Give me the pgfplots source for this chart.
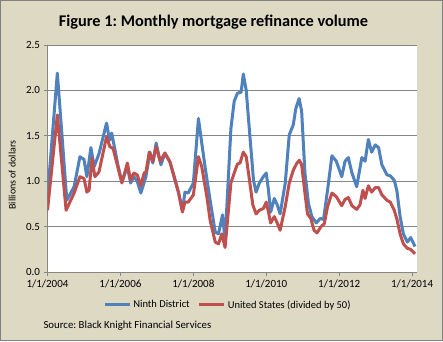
\documentclass[border=0pt]{standalone}
\usepackage{pgfplots}
\pgfplotsset{compat=1.18}
\usepackage{fontspec}
\setmainfont{Carlito}
\frenchspacing
\definecolor{bg}{HTML}{DDD9C3}
\definecolor{ninth}{HTML}{4F81BD}
\definecolor{usred}{HTML}{C0504D}
\definecolor{gridc}{HTML}{868686}
\pgfplotstableread{
x y
2004.00 0.83
2004.27 2.19
2004.53 0.79
2004.73 0.94
2004.89 1.27
2005.00 1.24
2005.08 1.05
2005.19 1.37
2005.28 1.16
2005.41 1.30
2005.62 1.64
2005.70 1.45
2005.76 1.53
2005.94 1.16
2006.04 0.99
2006.19 1.16
2006.28 0.98
2006.37 1.05
2006.46 1.00
2006.56 0.87
2006.70 1.05
2006.81 1.32
2006.89 1.20
2006.98 1.42
2007.11 1.18
2007.22 1.31
2007.36 1.21
2007.50 1.01
2007.59 0.88
2007.70 0.68
2007.77 0.88
2007.86 0.87
2008.00 0.98
2008.14 1.69
2008.20 1.51
2008.32 1.16
2008.46 0.79
2008.60 0.44
2008.69 0.42
2008.80 0.63
2008.87 0.35
2009.03 1.58
2009.12 1.88
2009.21 1.97
2009.31 1.98
2009.37 2.18
2009.45 2.00
2009.56 1.45
2009.65 1.01
2009.72 0.88
2009.81 0.98
2009.92 1.05
2010.00 1.09
2010.06 0.90
2010.12 0.66
2010.22 0.81
2010.30 0.74
2010.38 0.64
2010.52 0.98
2010.63 1.51
2010.74 1.62
2010.81 1.80
2010.90 1.91
2010.97 1.77
2011.06 1.09
2011.16 0.75
2011.25 0.61
2011.37 0.54
2011.48 0.59
2011.57 0.58
2011.68 0.90
2011.80 1.28
2011.92 1.22
2012.07 1.05
2012.16 1.22
2012.25 1.26
2012.35 1.09
2012.48 0.94
2012.62 1.26
2012.71 1.22
2012.80 1.46
2012.89 1.32
2012.99 1.40
2013.08 1.37
2013.17 1.18
2013.31 1.07
2013.40 1.06
2013.51 1.01
2013.58 0.90
2013.67 0.61
2013.76 0.42
2013.87 0.33
2013.96 0.38
2014.08 0.28
}\ninthdata
\pgfplotstableread{
x y
2004.00 0.68
2004.27 1.73
2004.51 0.68
2004.73 0.87
2004.89 1.05
2005.00 1.03
2005.08 0.88
2005.14 0.90
2005.22 1.25
2005.30 1.05
2005.41 1.10
2005.62 1.49
2005.71 1.38
2005.80 1.36
2006.04 0.98
2006.19 1.20
2006.28 1.01
2006.37 1.09
2006.46 1.07
2006.56 0.95
2006.65 1.09
2006.70 1.10
2006.79 1.32
2006.89 1.22
2006.98 1.38
2007.09 1.22
2007.22 1.31
2007.36 1.21
2007.50 1.01
2007.59 0.88
2007.70 0.66
2007.77 0.77
2007.86 0.77
2008.00 0.85
2008.14 1.27
2008.23 1.16
2008.37 0.83
2008.46 0.57
2008.60 0.33
2008.69 0.31
2008.78 0.42
2008.87 0.27
2009.03 0.98
2009.12 1.09
2009.21 1.19
2009.28 1.20
2009.37 1.32
2009.45 1.27
2009.54 1.01
2009.63 0.74
2009.72 0.64
2009.81 0.68
2009.92 0.70
2010.00 0.77
2010.06 0.66
2010.12 0.54
2010.22 0.61
2010.30 0.54
2010.38 0.46
2010.52 0.72
2010.63 0.98
2010.74 1.12
2010.84 1.20
2010.91 1.23
2010.97 1.18
2011.06 0.87
2011.13 0.64
2011.22 0.59
2011.31 0.46
2011.39 0.43
2011.50 0.50
2011.59 0.53
2011.68 0.72
2011.80 0.87
2011.92 0.83
2012.07 0.73
2012.16 0.80
2012.25 0.82
2012.35 0.73
2012.48 0.69
2012.57 0.74
2012.65 0.90
2012.71 0.81
2012.80 0.95
2012.89 0.88
2012.99 0.93
2013.08 0.93
2013.17 0.85
2013.31 0.79
2013.40 0.77
2013.51 0.68
2013.59 0.57
2013.67 0.42
2013.76 0.31
2013.87 0.26
2013.96 0.25
2014.08 0.20
}\usdata
\begin{document}
\begin{tikzpicture}
\useasboundingbox (0pt,0pt) rectangle (443pt,341pt);
\fill[bg] (0pt,0pt) rectangle (443pt,341pt);
\draw[gray, line width=1pt] (0.5pt,0.5pt) rectangle (442.5pt,340.5pt);
\node[font=\fontsize{16.3}{19}\selectfont\bfseries] at (213.5pt,319pt) {Figure 1: Monthly mortgage refinance volume};
\node[anchor=west, font=\fontsize{10.8}{13}\selectfont] at (40pt,15pt) {Source: Black Knight Financial Services};
\begin{axis}[
  at={(47.5pt,69pt)}, anchor=south west,
  scale only axis, width=369pt, height=227pt,
  xmin=2004, xmax=2014.12, ymin=0, ymax=2.5,
  axis background/.style={fill=white},
  axis x line*=bottom, axis y line*=left,
  axis line style={gridc, line width=0.8pt, -},
  xtick={2004,2006,2008,2010,2012,2014},
  xticklabels={1/1/2004,1/1/2006,1/1/2008,1/1/2010,1/1/2012,1/1/2014},
  ytick={0,0.5,1,1.5,2,2.5},
  yticklabel style={/pgf/number format/.cd, fixed, fixed zerofill, precision=1, assume math mode=true},
  ticklabel style={font=\fontsize{11}{13}\selectfont, text=black},
  tick align=outside, major tick length=4pt,
  tick style={gridc, line width=0.8pt},
  ymajorgrids, grid style={gridc, line width=0.8pt},
  ylabel={Billions of dollars},
  ylabel style={at={(axis description cs:-0.096,0.427)}, anchor=center, font=\fontsize{10}{12}\selectfont},
  legend columns=2,
  legend style={at={(0.489,-0.145)}, anchor=center, draw=none, fill=none,
    font=\fontsize{10.5}{12}\selectfont,
    /tikz/every even column/.append style={column sep=6pt}},
  legend image code/.code={\draw[#1] (0pt,0pt) -- (25pt,0pt);},
  line join=round,
]
\addplot[ninth, line width=3pt, no markers] table[x=x,y=y] {\ninthdata};
\addlegendentry{Ninth District}
\addplot[usred, line width=3pt, no markers] table[x=x,y=y] {\usdata};
\addlegendentry{United States (divided by 50)}
\end{axis}
\end{tikzpicture}
\end{document}
